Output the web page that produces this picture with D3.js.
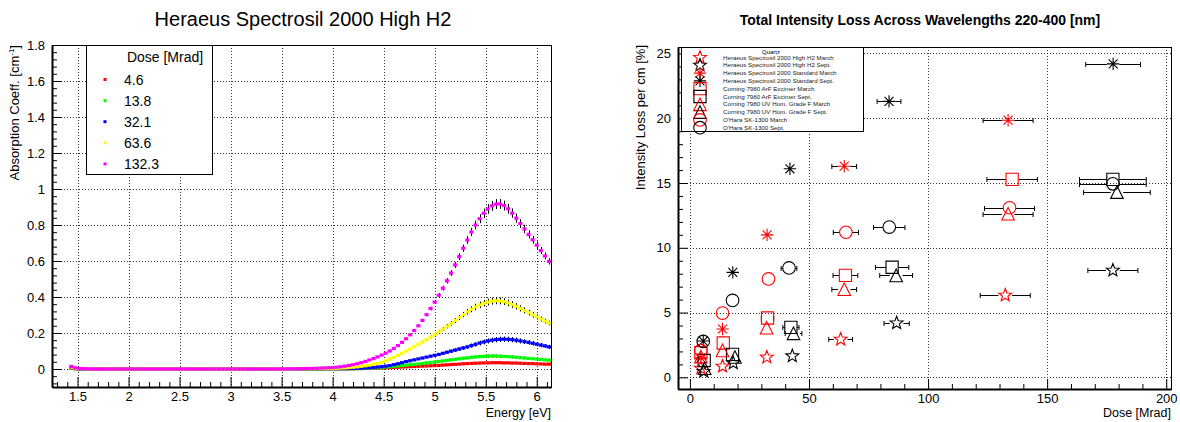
<!DOCTYPE html>
<html>
<head>
<meta charset="utf-8">
<script src="https://cdn.jsdelivr.net/npm/d3@7"></script>
<style>
  body { margin: 0; background: #fff; }
  svg { display: block; font-family: "Liberation Sans", Arial, Helvetica, sans-serif; }
</style>
</head>
<body>
<svg id="chart" width="1180" height="422"></svg>
<script>
// ================= Left panel: absorption spectra =================
// photon energy of each sample [eV]
const energy = [
  1.44,1.48,1.52,1.56,1.60,1.64,1.68,1.72,1.76,1.80,1.84,1.88,1.92,1.96,2.00,2.04,
  2.08,2.12,2.16,2.20,2.24,2.28,2.32,2.36,2.40,2.44,2.48,2.52,2.56,2.60,2.64,2.68,
  2.72,2.76,2.80,2.84,2.88,2.92,2.96,3.00,3.04,3.08,3.12,3.16,3.20,3.24,3.28,3.32,
  3.36,3.40,3.44,3.48,3.52,3.56,3.60,3.64,3.68,3.72,3.76,3.80,3.84,3.88,3.92,3.96,
  4.00,4.04,4.08,4.12,4.16,4.20,4.24,4.28,4.32,4.36,4.40,4.44,4.48,4.52,4.56,4.60,
  4.64,4.68,4.72,4.76,4.80,4.84,4.88,4.92,4.96,5.00,5.04,5.08,5.12,5.16,5.20,5.24,
  5.28,5.32,5.36,5.40,5.44,5.48,5.52,5.56,5.60,5.64,5.68,5.72,5.76,5.80,5.84,5.88,
  5.92,5.96,6.00,6.04,6.08,6.12
];

// absorption coefficient [1/cm] for each dose
const absDose4p6 = [
  0.004,0.001,0,0,0,0,0,0,0,0,0,0,0,0,0,0,
  0,0,0,0,0,0,0,0,0,0,0,0,0,0,0,0,
  0,0,0,0,0,0,0,0,0,0,0,0,0,0,0,0,
  0,0,0,0,0,0,0,0,0,0,0,0,0,0,0.001,0.001,
  0.001,0.001,0.001,0.001,0.001,0.002,0.002,0.002,0.003,0.003,0.004,0.005,0.006,0.007,0.008,0.009,
  0.010,0.011,0.012,0.013,0.014,0.015,0.016,0.017,0.018,0.019,0.020,0.022,0.023,0.025,0.026,0.027,
  0.029,0.030,0.031,0.032,0.033,0.034,0.034,0.035,0.035,0.035,0.034,0.034,0.033,0.033,0.032,0.031,
  0.030,0.030,0.029,0.028,0.027,0.027
];
const absDose13p8 = [
  0.006,0.002,0,0,0,0,0,0,0,0,0,0,0,0,0,0,
  0,0,0,0,0,0,0,0,0,0,0,0,0,0,0,0,
  0,0,0,0,0,0,0,0,0,0,0,0,0,0,0,0,
  0,0,0,0,0,0,0,0,0,0,0,0,0,0.001,0.001,0.001,
  0.001,0.001,0.001,0.002,0.002,0.002,0.003,0.003,0.004,0.005,0.006,0.007,0.009,0.011,0.013,0.015,
  0.017,0.019,0.021,0.024,0.026,0.028,0.031,0.034,0.036,0.039,0.042,0.045,0.048,0.051,0.054,0.057,
  0.060,0.062,0.065,0.067,0.069,0.070,0.071,0.072,0.072,0.071,0.070,0.069,0.067,0.065,0.063,0.061,
  0.059,0.057,0.055,0.053,0.051,0.049
];
const absDose32p1 = [
  0.008,0.003,0.001,0,0,0,0,0,0,0,0,0,0,0,0,0,
  0,0,0,0,0,0,0,0,0,0,0,0,0,0,0,0,
  0,0,0,0,0,0,0,0,0,0,0,0,0,0,0,0,
  0,0,0,0,0,0,0,0,0,0,0.001,0.001,0.001,0.001,0.001,0.002,0.002,0.002,
  0.002,0.002,0.003,0.003,0.004,0.005,0.006,0.007,0.009,0.011,0.013,0.016,0.019,0.024,0.029,0.035,
  0.041,0.046,0.051,0.056,0.061,0.066,0.071,0.076,0.081,0.087,0.093,0.099,0.105,0.111,0.117,0.123,
  0.130,0.137,0.144,0.150,0.156,0.160,0.163,0.165,0.166,0.165,0.163,0.160,0.156,0.152,0.148,0.143,
  0.138,0.133,0.128,0.123,0.118,0.113
];
const absDose63p6 = [
  0.010,0.004,0.002,0.001,0,0,0,0,0,0,0,0,0,0,0,0,
  0,0,0,0,0,0,0,0,0,0,0,0,0,0,0,0,
  0,0,0,0,0,0,0,0,0,0,0,0,0,0,0,0,
  0,0,0,0,0,0,0,0,0.001,0.001,0.001,0.001,0.002,0.002,0.002,0.003,
  0.003,0.004,0.005,0.006,0.008,0.010,0.012,0.015,0.018,0.022,0.026,0.031,0.037,0.045,0.054,0.064,
  0.075,0.087,0.099,0.111,0.124,0.137,0.150,0.163,0.177,0.192,0.207,0.222,0.238,0.254,0.270,0.286,
  0.302,0.318,0.332,0.345,0.356,0.365,0.372,0.377,0.379,0.378,0.374,0.367,0.358,0.348,0.337,0.325,
  0.313,0.301,0.289,0.277,0.266,0.255
];
const absDose132p3 = [
  0.014,0.006,0.003,0.002,0.001,0,0,0,0,0,0,0,0,0,0,0,
  0,0,0,0,0,0,0,0,0,0,0,0,0,0,0,0,
  0,0,0,0,0,0,0,0,0,0,0,0,0,0,0,0,
  0,0,0,0,0,0.001,0.001,0.001,0.002,0.002,0.003,0.003,0.004,0.005,0.006,0.007,
  0.008,0.010,0.013,0.016,0.020,0.024,0.029,0.035,0.042,0.050,0.058,0.067,0.077,0.088,0.100,0.114,
  0.130,0.148,0.168,0.190,0.214,0.240,0.270,0.302,0.336,0.372,0.410,0.449,0.490,0.533,0.578,0.624,
  0.671,0.717,0.761,0.800,0.835,0.865,0.889,0.906,0.916,0.917,0.908,0.890,0.866,0.838,0.808,0.778,
  0.748,0.718,0.688,0.658,0.628,0.598
];
const doseLabels = ["4.6", "13.8", "32.1", "63.6", "132.3"];
const doseColors = ["#ff0000", "#00ff00", "#0000ff", "#ffff00", "#ff00ff"];
// relative measurement uncertainty of each dose series
const doseRelErr = [0.15, 0.12, 0.09, 0.05, 0.03];

const energyTicks = [1.5, 2, 2.5, 3, 3.5, 4, 4.5, 5, 5.5, 6];
const absTicks = [0, 0.2, 0.4, 0.6, 0.8, 1, 1.2, 1.4, 1.6, 1.8];

// ================= Right panel: intensity loss vs dose =================
const sampleNames = [
  "Heraeus Spectrosil 2000 High H2 March",
  "Heraeus Spectrosil 2000 High H2 Sept.",
  "Heraeus Spectrosil 2000 Standard March",
  "Heraeus Spectrosil 2000 Standard Sept.",
  "Corning 7980 ArF Excimer March",
  "Corning 7980 ArF Excimer Sept.",
  "Corning 7980 UV Hom. Grade F March",
  "Corning 7980 UV Hom. Grade F Sept.",
  "O'Hara SK-1300 March",
  "O'Hara SK-1300 Sept."
];
const sampleMarkers = ["star", "star", "asterisk", "asterisk", "square", "square",
                       "triangle", "triangle", "circle", "circle"];
const sampleColors = ["#ff0000", "#000000", "#ff0000", "#000000", "#ff0000", "#000000",
                      "#ff0000", "#000000", "#ff0000", "#000000"];

// dose [Mrad], loss [% per cm], dose uncertainty [Mrad]
const highH2MarDose = [4.6, 13.7, 32.3, 63.3, 132.4];
const highH2MarLoss = [0.7, 0.85, 1.55, 2.93, 6.33];
const highH2MarErr  = [0.4, 1.1, 2.6, 5.0, 10.5];
const highH2SepDose = [5.8, 18.2, 43.0, 86.8, 177.6];
const highH2SepLoss = [0.45, 1.1, 1.65, 4.19, 8.26];
const highH2SepErr  = [0.4, 1.1, 2.6, 5.3, 10.5];
const standardMarDose = [4.6, 13.7, 32.4, 64.8, 133.6];
const standardMarLoss = [1.5, 3.73, 11.0, 16.3, 19.85];
const standardMarErr  = [0.4, 1.1, 2.6, 5.2, 10.5];
const standardSepDose = [5.6, 18.0, 42.0, 83.6, 177.7];
const standardSepLoss = [2.8, 8.1, 16.1, 21.3, 24.2];
const standardSepErr  = [0.4, 1.1, 2.6, 5.0, 11.5];
const arfMarDose = [4.6, 14.0, 32.6, 65.3, 135.3];
const arfMarLoss = [1.9, 2.65, 4.58, 7.87, 15.28];
const arfMarErr  = [0.4, 1.1, 2.6, 5.2, 10.6];
const arfSepDose = [6.0, 17.9, 42.4, 84.9, 177.6];
const arfSepLoss = [1.3, 1.77, 3.86, 8.5, 15.28];
const arfSepErr  = [0.5, 1.4, 3.4, 7.0, 14.0];
const uvfMarDose = [4.6, 13.7, 32.2, 64.8, 133.6];
const uvfMarLoss = [1.6, 2.08, 3.83, 6.8, 12.63];
const uvfMarErr  = [0.4, 1.1, 2.6, 5.2, 10.5];
const uvfSepDose = [6.2, 18.9, 43.5, 86.6, 179.3];
const uvfSepLoss = [0.7, 1.57, 3.4, 7.87, 14.3];
const uvfSepErr  = [0.5, 1.5, 3.5, 6.9, 14.0];
const oharaMarDose = [4.6, 13.7, 33.0, 65.5, 134.2];
const oharaMarLoss = [2.08, 4.96, 7.6, 11.2, 13.09];
const oharaMarErr  = [0.4, 1.1, 2.6, 5.3, 10.5];
const oharaSepDose = [5.6, 17.9, 41.6, 83.7, 177.6];
const oharaSepLoss = [2.77, 5.94, 8.45, 11.6, 14.94];
const oharaSepErr  = [0.4, 1.4, 3.3, 6.6, 14.0];

const doseTicks = [0, 50, 100, 150, 200];
const lossTicks = [0, 5, 10, 15, 20, 25];

// ================= drawing =================
const svg = d3.select("#chart");
const FONT = '"Liberation Sans", Arial, Helvetica, sans-serif';
const px = v => Math.round(v) + 0.5;

function styleAxis(g, fontSize) {
  g.attr("font-family", FONT).attr("font-size", fontSize);
  g.selectAll("text").attr("fill", "#000");
  g.selectAll(".tick line").attr("stroke", "#000");
}

function drawFrame(g, box, xs, ys, xMajor, xMinor, yMajor, yMinor) {
  // dotted grid at major ticks
  const grid = g.append("g").attr("stroke", "#333").attr("stroke-width", 1)
    .attr("stroke-dasharray", "1,2");
  grid.selectAll("line.gx").data(xMajor).join("line").attr("class", "gx")
    .attr("x1", d => px(xs(d))).attr("x2", d => px(xs(d)))
    .attr("y1", box.y0).attr("y2", box.y1);
  grid.selectAll("line.gy").data(yMajor).join("line").attr("class", "gy")
    .attr("y1", d => px(ys(d))).attr("y2", d => px(ys(d)))
    .attr("x1", box.x0).attr("x2", box.x1);

  // outer frame
  g.append("rect").attr("x", box.x0 + 0.5).attr("y", box.y0 + 0.5)
    .attr("width", box.x1 - box.x0).attr("height", box.y1 - box.y0)
    .attr("fill", "none").attr("stroke", "#000").attr("stroke-width", 1);

  // minor ticks (inside)
  g.append("g").attr("transform", `translate(0,${box.y1})`)
    .call(d3.axisBottom(xs).tickValues(xMinor).tickSize(-5).tickFormat(""))
    .call(a => a.select(".domain").remove())
    .call(a => a.selectAll("line").attr("stroke", "#000"));
  g.append("g").attr("transform", `translate(${box.x0},0)`)
    .call(d3.axisLeft(ys).tickValues(yMinor).tickSize(-5).tickFormat(""))
    .call(a => a.select(".domain").remove())
    .call(a => a.selectAll("line").attr("stroke", "#000"));

  // major ticks with labels
  g.append("g").attr("transform", `translate(0,${box.y1})`)
    .call(d3.axisBottom(xs).tickValues(xMajor).tickSizeInner(-10).tickSizeOuter(0)
      .tickPadding(5).tickFormat(d => String(d)))
    .call(a => styleAxis(a, 13))
    .call(a => a.select(".domain").attr("stroke", "#000").attr("stroke-width", 2));
  g.append("g").attr("transform", `translate(${box.x0},0)`)
    .call(d3.axisLeft(ys).tickValues(yMajor).tickSizeInner(-10).tickSizeOuter(0)
      .tickPadding(7).tickFormat(d => String(d)))
    .call(a => styleAxis(a, 13))
    .call(a => a.select(".domain").attr("stroke", "#000").attr("stroke-width", 2));
}

// ---------- left panel ----------
const LB = { x0: 52, x1: 551, y0: 45, y1: 387 };
const xE = d3.scaleLinear().domain([1.25, 6.14]).range([LB.x0, LB.x1]);
const yA = d3.scaleLinear().domain([-0.1, 1.8]).range([LB.y1, LB.y0]);

const gL = svg.append("g");
const eMinor = d3.range(13, 62).map(i => i / 10).filter(v => !energyTicks.some(t => Math.abs(t - v) < 1e-9));
const aMinor = d3.range(-2, 46).filter(i => i % 5 !== 0).map(i => +(i * 0.04).toFixed(2));
drawFrame(gL, LB, xE, yA, energyTicks, eMinor, absTicks, aMinor);

svg.append("clipPath").attr("id", "clipL").append("rect")
  .attr("x", LB.x0).attr("y", LB.y0).attr("width", LB.x1 - LB.x0).attr("height", LB.y1 - LB.y0);

const absSeries = [absDose4p6, absDose13p8, absDose32p1, absDose63p6, absDose132p3];
const gData = gL.append("g").attr("clip-path", "url(#clipL)");
absSeries.forEach((vals, k) => {
  const pts = energy.map((e, i) => ({ e, v: vals[i], err: vals[i] * doseRelErr[k] }));
  const s = gData.append("g");
  s.selectAll("line").data(pts.filter(p => yA(p.v - p.err) - yA(p.v + p.err) > 1)).join("line")
    .attr("x1", p => px(xE(p.e))).attr("x2", p => px(xE(p.e)))
    .attr("y1", p => yA(p.v + p.err)).attr("y2", p => yA(p.v - p.err))
    .attr("stroke", "#000").attr("stroke-width", 1);
  s.selectAll("rect").data(pts).join("rect")
    .attr("x", p => xE(p.e) - 2.05).attr("y", p => yA(p.v) - 1.6)
    .attr("width", 4.1).attr("height", 3.2)
    .attr("fill", doseColors[k]);
});

// legend
const legL = gL.append("g");
legL.append("rect").attr("x", 86.5).attr("y", 45.5).attr("width", 126).attr("height", 129)
  .attr("fill", "#fff").attr("stroke", "#000").attr("stroke-width", 1);
legL.append("text").attr("x", 165).attr("y", 62).attr("text-anchor", "middle")
  .attr("font-size", 14).text("Dose [Mrad]");
doseLabels.forEach((lab, k) => {
  const y = 79.5 + k * 21.1;
  legL.append("rect").attr("x", 103.5).attr("y", y - 1.5).attr("width", 3).attr("height", 3)
    .attr("fill", doseColors[k]);
  legL.append("text").attr("x", 124).attr("y", y + 5).attr("font-size", 14).text(lab);
});

// titles
svg.append("text").attr("x", 303).attr("y", 26).attr("text-anchor", "middle")
  .attr("font-size", 20).text("Heraeus Spectrosil 2000 High H2");
svg.append("text").attr("x", LB.x1).attr("y", 417).attr("text-anchor", "end")
  .attr("font-size", 12.5).text("Energy [eV]");
const yLabL = svg.append("text").attr("transform", `translate(19,${LB.y0}) rotate(-90)`)
  .attr("text-anchor", "end").attr("font-size", 13);
yLabL.append("tspan").text("Absorption Coeff. [cm");
yLabL.append("tspan").attr("font-size", 8).attr("dy", -5).text("-1");
yLabL.append("tspan").attr("dy", 5).text("]");

// ---------- right panel ----------
const RB = { x0: 678, x1: 1171, y0: 47, y1: 389 };
const xD = d3.scaleLinear().domain([-5, 202]).range([RB.x0, RB.x1]);
const yL = d3.scaleLinear().domain([-0.9, 25.5]).range([RB.y1, RB.y0]);

const gR = svg.append("g");
const dMinor = d3.range(0, 201, 10).filter(v => v % 50 !== 0);
const lMinor = d3.range(0, 26).filter(v => v % 5 !== 0);
drawFrame(gR, RB, xD, yL, doseTicks, dMinor, lossTicks, lMinor);

const sampleDose = [highH2MarDose, highH2SepDose, standardMarDose, standardSepDose, arfMarDose,
                    arfSepDose, uvfMarDose, uvfSepDose, oharaMarDose, oharaSepDose];
const sampleLoss = [highH2MarLoss, highH2SepLoss, standardMarLoss, standardSepLoss, arfMarLoss,
                    arfSepLoss, uvfMarLoss, uvfSepLoss, oharaMarLoss, oharaSepLoss];
const sampleErr = [highH2MarErr, highH2SepErr, standardMarErr, standardSepErr, arfMarErr,
                   arfSepErr, uvfMarErr, uvfSepErr, oharaMarErr, oharaSepErr];

function markerPath(kind, r) {
  if (kind === "circle") return `M${r},0A${r},${r} 0 1 1 ${-r},0A${r},${r} 0 1 1 ${r},0Z`;
  if (kind === "square") return `M${-r},${-r}H${r}V${r}H${-r}Z`;
  if (kind === "triangle") return `M0,${-r}L${r},${r}L${-r},${r}Z`;
  if (kind === "star") {
    const pts = [];
    for (let i = 0; i < 10; i++) {
      const rad = i % 2 === 0 ? r : r * 0.42;
      const a = -Math.PI / 2 + i * Math.PI / 5;
      pts.push([rad * Math.cos(a), rad * Math.sin(a)]);
    }
    return "M" + pts.map(p => p[0].toFixed(2) + "," + p[1].toFixed(2)).join("L") + "Z";
  }
  // asterisk: horizontal, vertical and two diagonals
  const d = r * 0.72;
  return `M${-r},0H${r}M0,${-r}V${r}M${-d},${-d}L${d},${d}M${-d},${d}L${d},${-d}`;
}
const markerR = { circle: 6.3, square: 6.1, triangle: 6.3, star: 6.8, asterisk: 6.2 };

svg.append("clipPath").attr("id", "clipR").append("rect")
  .attr("x", RB.x0).attr("y", RB.y0).attr("width", RB.x1 - RB.x0).attr("height", RB.y1 - RB.y0);
const gPts = gR.append("g").attr("clip-path", "url(#clipR)");

sampleNames.forEach((name, k) => {
  const kind = sampleMarkers[k];
  const r = markerR[kind];
  const pts = sampleDose[k].map((d, i) => ({ d, v: sampleLoss[k][i], e: sampleErr[k][i] }));
  const s = gPts.append("g");
  // horizontal dose error bars, drawn outside the marker, with end caps
  pts.forEach(p => {
    const cx = xD(p.d), cy = px(yL(p.v));
    const xl = xD(p.d - p.e), xr = xD(p.d + p.e);
    if (cx - xl > r) {
      s.append("path")
        .attr("d", `M${xl},${cy}H${cx - r}M${cx + r},${cy}H${xr}M${xl},${cy - 2.5}V${cy + 2.5}M${xr},${cy - 2.5}V${cy + 2.5}`)
        .attr("stroke", "#000").attr("stroke-width", 1).attr("fill", "none");
    }
  });
  s.selectAll("path.mk").data(pts).join("path").attr("class", "mk")
    .attr("transform", p => `translate(${xD(p.d)},${yL(p.v)})`)
    .attr("d", markerPath(kind, r))
    .attr("fill", "none").attr("stroke", sampleColors[k]).attr("stroke-width", 1.1);
});

// legend
const legR = gR.append("g");
legR.append("rect").attr("x", 681.5).attr("y", 47.5).attr("width", 182).attr("height", 84)
  .attr("fill", "#fff").attr("stroke", "#000").attr("stroke-width", 1);
legR.append("text").attr("x", 771).attr("y", 53.5).attr("text-anchor", "middle")
  .attr("font-size", 6).text("Quartz");
sampleNames.forEach((name, k) => {
  const y = 57.5 + k * 7.8;
  const kind = sampleMarkers[k];
  legR.append("path").attr("transform", `translate(700,${y})`)
    .attr("d", markerPath(kind, markerR[kind]))
    .attr("fill", "none").attr("stroke", sampleColors[k]).attr("stroke-width", 1.1);
  legR.append("text").attr("x", 723).attr("y", y + 2.1).attr("font-size", 6.2)
    .attr("fill", "#222").text(name);
});

svg.append("text").attr("x", 920).attr("y", 25).attr("text-anchor", "middle")
  .attr("font-size", 14).attr("font-weight", "bold")
  .text("Total Intensity Loss Across Wavelengths 220-400 [nm]");
svg.append("text").attr("x", RB.x1).attr("y", 417).attr("text-anchor", "end")
  .attr("font-size", 12.5).text("Dose [Mrad]");
svg.append("text").attr("transform", `translate(645,${RB.y0 - 2}) rotate(-90)`)
  .attr("text-anchor", "end").attr("font-size", 13).text("Intensity Loss per cm [%]");
</script>
</body>
</html>
